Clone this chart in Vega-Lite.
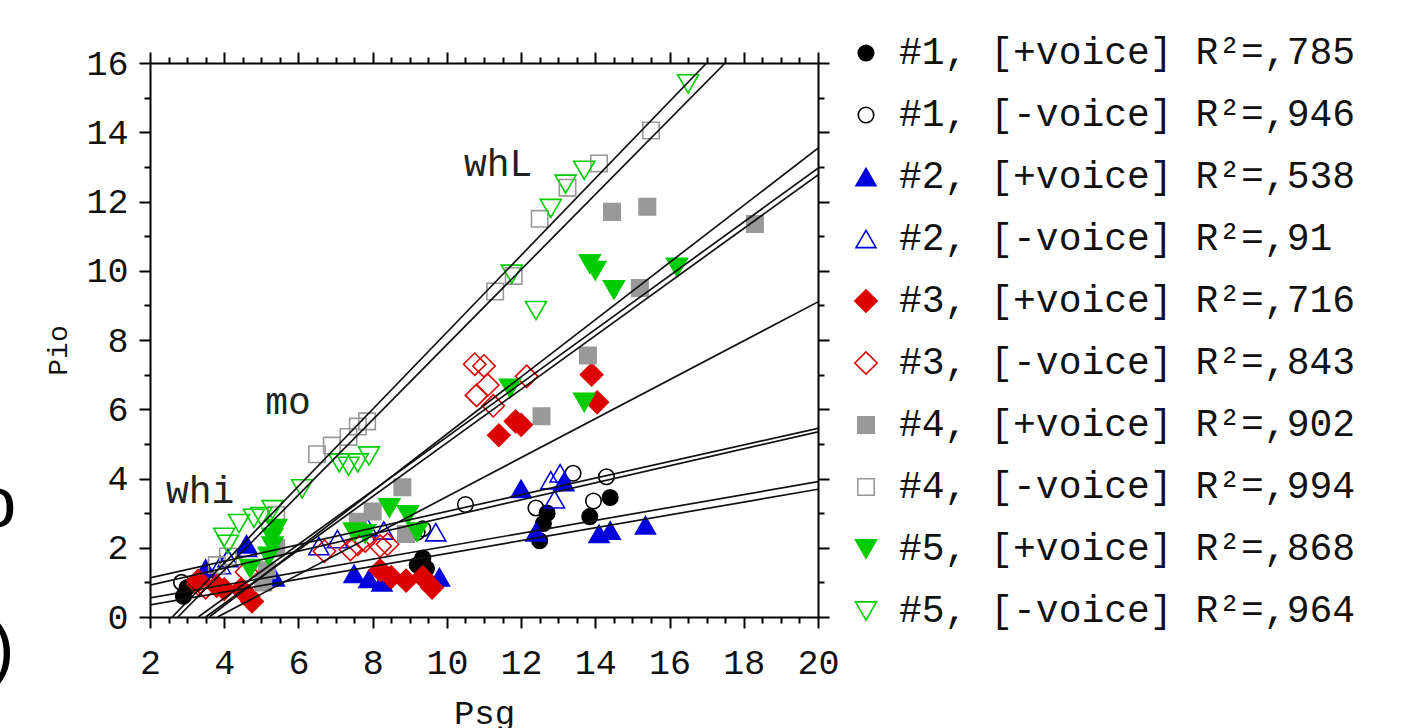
{
  "$schema": "https://vega.github.io/schema/vega-lite/v6.json",
  "width": 668,
  "height": 554,
  "autosize": {"type": "none"},
  "padding": {"left": 150, "top": 63, "right": 603, "bottom": 111},
  "background": "white",
  "config": {"view": {"stroke": null}, "font": "Liberation Mono"},
  "datasets": {
    "pts": [
      {"s": "#1, [+voice] R²=,785", "x": 2.9, "y": 0.6}, {"s": "#1, [+voice] R²=,785", "x": 3.0, "y": 0.85},
      {"s": "#1, [+voice] R²=,785", "x": 9.2, "y": 1.5}, {"s": "#1, [+voice] R²=,785", "x": 9.35, "y": 1.7},
      {"s": "#1, [+voice] R²=,785", "x": 9.45, "y": 1.4}, {"s": "#1, [+voice] R²=,785", "x": 12.5, "y": 2.2},
      {"s": "#1, [+voice] R²=,785", "x": 12.6, "y": 2.7}, {"s": "#1, [+voice] R²=,785", "x": 12.7, "y": 3.0},
      {"s": "#1, [+voice] R²=,785", "x": 13.85, "y": 2.9}, {"s": "#1, [+voice] R²=,785", "x": 14.4, "y": 3.45},
      {"s": "#1, [-voice] R²=,946", "x": 2.85, "y": 1.0}, {"s": "#1, [-voice] R²=,946", "x": 9.2, "y": 2.45},
      {"s": "#1, [-voice] R²=,946", "x": 9.35, "y": 2.55}, {"s": "#1, [-voice] R²=,946", "x": 10.5, "y": 3.25},
      {"s": "#1, [-voice] R²=,946", "x": 12.4, "y": 3.15}, {"s": "#1, [-voice] R²=,946", "x": 13.4, "y": 4.15},
      {"s": "#1, [-voice] R²=,946", "x": 13.95, "y": 3.35}, {"s": "#1, [-voice] R²=,946", "x": 14.3, "y": 4.05},
      {"s": "#2, [+voice] R²=,538", "x": 3.5, "y": 1.4}, {"s": "#2, [+voice] R²=,538", "x": 4.6, "y": 2.1},
      {"s": "#2, [+voice] R²=,538", "x": 5.35, "y": 1.15}, {"s": "#2, [+voice] R²=,538", "x": 7.5, "y": 1.25},
      {"s": "#2, [+voice] R²=,538", "x": 7.9, "y": 1.1}, {"s": "#2, [+voice] R²=,538", "x": 8.25, "y": 1.0},
      {"s": "#2, [+voice] R²=,538", "x": 9.8, "y": 1.15}, {"s": "#2, [+voice] R²=,538", "x": 12.0, "y": 3.7},
      {"s": "#2, [+voice] R²=,538", "x": 12.4, "y": 2.45}, {"s": "#2, [+voice] R²=,538", "x": 13.15, "y": 3.9},
      {"s": "#2, [+voice] R²=,538", "x": 14.1, "y": 2.4}, {"s": "#2, [+voice] R²=,538", "x": 14.4, "y": 2.5},
      {"s": "#2, [+voice] R²=,538", "x": 15.35, "y": 2.65},
      {"s": "#2, [-voice] R²=,91", "x": 3.9, "y": 1.5}, {"s": "#2, [-voice] R²=,91", "x": 4.1, "y": 1.7},
      {"s": "#2, [-voice] R²=,91", "x": 4.6, "y": 2.0}, {"s": "#2, [-voice] R²=,91", "x": 6.55, "y": 2.05},
      {"s": "#2, [-voice] R²=,91", "x": 7.05, "y": 2.25}, {"s": "#2, [-voice] R²=,91", "x": 7.85, "y": 2.6},
      {"s": "#2, [-voice] R²=,91", "x": 8.3, "y": 2.5}, {"s": "#2, [-voice] R²=,91", "x": 9.7, "y": 2.45},
      {"s": "#2, [-voice] R²=,91", "x": 12.8, "y": 3.95}, {"s": "#2, [-voice] R²=,91", "x": 13.05, "y": 4.15},
      {"s": "#2, [-voice] R²=,91", "x": 12.9, "y": 3.4},
      {"s": "#3, [+voice] R²=,716", "x": 3.3, "y": 1.05}, {"s": "#3, [+voice] R²=,716", "x": 3.8, "y": 0.9},
      {"s": "#3, [+voice] R²=,716", "x": 4.0, "y": 0.8}, {"s": "#3, [+voice] R²=,716", "x": 4.45, "y": 0.8},
      {"s": "#3, [+voice] R²=,716", "x": 4.65, "y": 0.6}, {"s": "#3, [+voice] R²=,716", "x": 4.75, "y": 0.45},
      {"s": "#3, [+voice] R²=,716", "x": 8.2, "y": 1.35}, {"s": "#3, [+voice] R²=,716", "x": 8.5, "y": 1.15},
      {"s": "#3, [+voice] R²=,716", "x": 8.9, "y": 1.05}, {"s": "#3, [+voice] R²=,716", "x": 9.35, "y": 1.15},
      {"s": "#3, [+voice] R²=,716", "x": 9.6, "y": 0.85}, {"s": "#3, [+voice] R²=,716", "x": 11.4, "y": 5.25},
      {"s": "#3, [+voice] R²=,716", "x": 11.85, "y": 5.65}, {"s": "#3, [+voice] R²=,716", "x": 12.0, "y": 5.55},
      {"s": "#3, [+voice] R²=,716", "x": 13.9, "y": 7.0}, {"s": "#3, [+voice] R²=,716", "x": 14.05, "y": 6.2},
      {"s": "#3, [-voice] R²=,843", "x": 3.3, "y": 0.95}, {"s": "#3, [-voice] R²=,843", "x": 3.5, "y": 0.85},
      {"s": "#3, [-voice] R²=,843", "x": 4.6, "y": 1.3}, {"s": "#3, [-voice] R²=,843", "x": 6.7, "y": 1.9},
      {"s": "#3, [-voice] R²=,843", "x": 7.4, "y": 1.95}, {"s": "#3, [-voice] R²=,843", "x": 7.6, "y": 2.1},
      {"s": "#3, [-voice] R²=,843", "x": 7.8, "y": 2.2}, {"s": "#3, [-voice] R²=,843", "x": 8.2, "y": 2.05},
      {"s": "#3, [-voice] R²=,843", "x": 8.4, "y": 2.1}, {"s": "#3, [-voice] R²=,843", "x": 10.75, "y": 7.3},
      {"s": "#3, [-voice] R²=,843", "x": 11.0, "y": 7.25}, {"s": "#3, [-voice] R²=,843", "x": 10.8, "y": 6.4},
      {"s": "#3, [-voice] R²=,843", "x": 11.1, "y": 6.7}, {"s": "#3, [-voice] R²=,843", "x": 11.25, "y": 6.1},
      {"s": "#3, [-voice] R²=,843", "x": 12.15, "y": 6.95},
      {"s": "#4, [+voice] R²=,902", "x": 5.05, "y": 1.0}, {"s": "#4, [+voice] R²=,902", "x": 5.15, "y": 1.35},
      {"s": "#4, [+voice] R²=,902", "x": 5.4, "y": 2.0}, {"s": "#4, [+voice] R²=,902", "x": 7.6, "y": 2.75},
      {"s": "#4, [+voice] R²=,902", "x": 8.0, "y": 3.05}, {"s": "#4, [+voice] R²=,902", "x": 8.8, "y": 3.75},
      {"s": "#4, [+voice] R²=,902", "x": 8.9, "y": 2.4}, {"s": "#4, [+voice] R²=,902", "x": 12.55, "y": 5.8},
      {"s": "#4, [+voice] R²=,902", "x": 13.8, "y": 7.55}, {"s": "#4, [+voice] R²=,902", "x": 14.45, "y": 11.7},
      {"s": "#4, [+voice] R²=,902", "x": 15.2, "y": 9.5}, {"s": "#4, [+voice] R²=,902", "x": 15.4, "y": 11.85},
      {"s": "#4, [+voice] R²=,902", "x": 18.3, "y": 11.35},
      {"s": "#4, [-voice] R²=,994", "x": 3.8, "y": 1.5}, {"s": "#4, [-voice] R²=,994", "x": 4.1, "y": 1.75},
      {"s": "#4, [-voice] R²=,994", "x": 5.4, "y": 2.95}, {"s": "#4, [-voice] R²=,994", "x": 6.5, "y": 4.7},
      {"s": "#4, [-voice] R²=,994", "x": 6.9, "y": 4.95}, {"s": "#4, [-voice] R²=,994", "x": 7.35, "y": 5.2},
      {"s": "#4, [-voice] R²=,994", "x": 7.6, "y": 5.5}, {"s": "#4, [-voice] R²=,994", "x": 7.85, "y": 5.65},
      {"s": "#4, [-voice] R²=,994", "x": 11.3, "y": 9.4}, {"s": "#4, [-voice] R²=,994", "x": 11.8, "y": 9.85},
      {"s": "#4, [-voice] R²=,994", "x": 12.5, "y": 11.5}, {"s": "#4, [-voice] R²=,994", "x": 13.25, "y": 12.4},
      {"s": "#4, [-voice] R²=,994", "x": 14.1, "y": 13.1}, {"s": "#4, [-voice] R²=,994", "x": 15.5, "y": 14.05},
      {"s": "#5, [+voice] R²=,868", "x": 4.7, "y": 1.4}, {"s": "#5, [+voice] R²=,868", "x": 5.2, "y": 1.75},
      {"s": "#5, [+voice] R²=,868", "x": 5.3, "y": 2.05}, {"s": "#5, [+voice] R²=,868", "x": 5.3, "y": 2.3},
      {"s": "#5, [+voice] R²=,868", "x": 5.4, "y": 2.55}, {"s": "#5, [+voice] R²=,868", "x": 7.5, "y": 2.45},
      {"s": "#5, [+voice] R²=,868", "x": 7.8, "y": 2.4}, {"s": "#5, [+voice] R²=,868", "x": 8.45, "y": 3.15},
      {"s": "#5, [+voice] R²=,868", "x": 8.95, "y": 2.95}, {"s": "#5, [+voice] R²=,868", "x": 9.2, "y": 2.45},
      {"s": "#5, [+voice] R²=,868", "x": 11.7, "y": 6.6}, {"s": "#5, [+voice] R²=,868", "x": 13.7, "y": 6.2},
      {"s": "#5, [+voice] R²=,868", "x": 13.85, "y": 10.2}, {"s": "#5, [+voice] R²=,868", "x": 14.0, "y": 10.0},
      {"s": "#5, [+voice] R²=,868", "x": 14.5, "y": 9.45}, {"s": "#5, [+voice] R²=,868", "x": 16.2, "y": 10.1},
      {"s": "#5, [-voice] R²=,964", "x": 4.0, "y": 2.3}, {"s": "#5, [-voice] R²=,964", "x": 4.1, "y": 2.1},
      {"s": "#5, [-voice] R²=,964", "x": 4.4, "y": 2.7}, {"s": "#5, [-voice] R²=,964", "x": 4.8, "y": 2.85},
      {"s": "#5, [-voice] R²=,964", "x": 5.0, "y": 2.9}, {"s": "#5, [-voice] R²=,964", "x": 5.3, "y": 3.1},
      {"s": "#5, [-voice] R²=,964", "x": 6.1, "y": 3.7}, {"s": "#5, [-voice] R²=,964", "x": 7.1, "y": 4.45},
      {"s": "#5, [-voice] R²=,964", "x": 7.35, "y": 4.35}, {"s": "#5, [-voice] R²=,964", "x": 7.6, "y": 4.45},
      {"s": "#5, [-voice] R²=,964", "x": 7.9, "y": 4.65}, {"s": "#5, [-voice] R²=,964", "x": 11.75, "y": 9.9},
      {"s": "#5, [-voice] R²=,964", "x": 12.4, "y": 8.85}, {"s": "#5, [-voice] R²=,964", "x": 12.8, "y": 11.8},
      {"s": "#5, [-voice] R²=,964", "x": 13.2, "y": 12.5}, {"s": "#5, [-voice] R²=,964", "x": 13.7, "y": 12.9},
      {"s": "#5, [-voice] R²=,964", "x": 16.5, "y": 15.4}
    ],
    "fits": [
      {"s": "#1, [-voice]", "x1": 2, "y1": 1.13, "x2": 20, "y2": 5.45},
      {"s": "#2, [-voice]", "x1": 2, "y1": 0.92, "x2": 20, "y2": 5.35},
      {"s": "#1, [+voice]", "x1": 2, "y1": 0.55, "x2": 20, "y2": 3.91},
      {"s": "#2, [+voice]", "x1": 2, "y1": 0.35, "x2": 20, "y2": 3.69},
      {"s": "#3, [+voice]", "x1": 3.82, "y1": 0, "x2": 20, "y2": 9.1},
      {"s": "#4, [+voice]", "x1": 3.6, "y1": 0, "x2": 20, "y2": 13.54},
      {"s": "#3, [-voice]", "x1": 3.3, "y1": 0, "x2": 20, "y2": 12.96},
      {"s": "#5, [+voice]", "x1": 3.5, "y1": 0, "x2": 20, "y2": 12.77},
      {"s": "#5, [-voice]", "x1": 2.6, "y1": 0, "x2": 17.0, "y2": 16},
      {"s": "#4, [-voice]", "x1": 2.75, "y1": 0, "x2": 17.5, "y2": 16}
    ],
    "notes": [
      {"t": "whL", "x": 11.38, "y": 13.05},
      {"t": "mo", "x": 5.72, "y": 6.18},
      {"t": "whi", "x": 3.35, "y": 3.61}
    ],
    "edge": [
      {"t": "o", "x": -1.6, "y": 3.23},
      {"t": ")", "x": -1.65, "y": -0.95}
    ]
  },
  "layer": [
    {
      "data": {"name": "pts"},
      "mark": {"type": "point", "strokeWidth": 1.6, "opacity": 1},
      "encoding": {
        "x": {"field": "x", "type": "quantitative", "scale": {"domain": [2, 20], "nice": false, "zero": false},
          "axis": {"orient": "bottom", "values": [2, 4, 6, 8, 10, 12, 14, 16, 18, 20], "grid": false,
            "domainColor": "black", "domainWidth": 2, "tickColor": "black", "tickWidth": 2, "tickSize": 11,
            "labelFont": "Liberation Mono", "labelFontSize": 35, "labelColor": "#111", "labelPadding": 17, "labelFlush": false,
            "title": "Psg", "titleFont": "Liberation Mono", "titleFontSize": 34, "titleFontWeight": "normal", "titleColor": "#111",
            "titleY": 106, "titleBaseline": "alphabetic"}},
        "y": {"field": "y", "type": "quantitative", "scale": {"domain": [0, 16], "nice": false, "zero": false},
          "axis": {"orient": "left", "values": [0, 2, 4, 6, 8, 10, 12, 14, 16], "grid": false,
            "domainColor": "black", "domainWidth": 2, "tickColor": "black", "tickWidth": 2, "tickSize": 11,
            "labelFont": "Liberation Mono", "labelFontSize": 35, "labelColor": "#111", "labelPadding": 11, "labelFlush": false,
            "title": "Pio", "titleFont": "Liberation Mono", "titleFontSize": 28, "titleFontWeight": "normal", "titleColor": "#111",
            "titleAngle": -90, "titleX": -92, "titleY": 287, "titleBaseline": "middle", "titleAlign": "center"}},
        "shape": {"field": "s", "type": "nominal",
          "scale": {"domain": ["#1, [+voice] R²=,785", "#1, [-voice] R²=,946", "#2, [+voice] R²=,538", "#2, [-voice] R²=,91", "#3, [+voice] R²=,716", "#3, [-voice] R²=,843", "#4, [+voice] R²=,902", "#4, [-voice] R²=,994", "#5, [+voice] R²=,868", "#5, [-voice] R²=,964"],
            "range": ["circle", "circle", "triangle-up", "triangle-up", "diamond", "diamond", "square", "square", "triangle-down", "triangle-down"]},
          "legend": {"orient": "none", "legendX": 697, "legendY": -29, "title": null, "padding": 0, "labelFont": "Liberation Mono", "labelFontSize": 38, "labelColor": "#111", "labelOffset": 14, "rowPadding": 24, "labelLimit": 0, "symbolStrokeWidth": 1.6}},
        "stroke": {"field": "s", "type": "nominal",
          "scale": {"domain": ["#1, [+voice] R²=,785", "#1, [-voice] R²=,946", "#2, [+voice] R²=,538", "#2, [-voice] R²=,91", "#3, [+voice] R²=,716", "#3, [-voice] R²=,843", "#4, [+voice] R²=,902", "#4, [-voice] R²=,994", "#5, [+voice] R²=,868", "#5, [-voice] R²=,964"],
            "range": ["#000000", "#000000", "#0000dd", "#0000dd", "#dd0000", "#dd0000", "#999999", "#999999", "#00cc00", "#00cc00"]},
          "legend": {"orient": "none", "legendX": 697, "legendY": -29, "title": null, "padding": 0, "labelFont": "Liberation Mono", "labelFontSize": 38, "labelColor": "#111", "labelOffset": 14, "rowPadding": 24, "labelLimit": 0, "symbolStrokeWidth": 1.6}},
        "fill": {"field": "s", "type": "nominal",
          "scale": {"domain": ["#1, [+voice] R²=,785", "#1, [-voice] R²=,946", "#2, [+voice] R²=,538", "#2, [-voice] R²=,91", "#3, [+voice] R²=,716", "#3, [-voice] R²=,843", "#4, [+voice] R²=,902", "#4, [-voice] R²=,994", "#5, [+voice] R²=,868", "#5, [-voice] R²=,964"],
            "range": ["#000000", "transparent", "#0000dd", "transparent", "#dd0000", "transparent", "#999999", "transparent", "#00cc00", "transparent"]},
          "legend": {"orient": "none", "legendX": 697, "legendY": -29, "title": null, "padding": 0, "labelFont": "Liberation Mono", "labelFontSize": 38, "labelColor": "#111", "labelOffset": 14, "rowPadding": 24, "labelLimit": 0, "symbolStrokeWidth": 1.6}},
        "size": {"field": "s", "type": "nominal",
          "scale": {"type": "ordinal", "domain": ["#1, [+voice] R²=,785", "#1, [-voice] R²=,946", "#2, [+voice] R²=,538", "#2, [-voice] R²=,91", "#3, [+voice] R²=,716", "#3, [-voice] R²=,843", "#4, [+voice] R²=,902", "#4, [-voice] R²=,994", "#5, [+voice] R²=,868", "#5, [-voice] R²=,964"],
            "range": [240, 240, 400, 400, 500, 500, 270, 270, 440, 440]},
          "legend": {"orient": "none", "legendX": 697, "legendY": -29, "title": null, "padding": 0, "labelFont": "Liberation Mono", "labelFontSize": 38, "labelColor": "#111", "labelOffset": 14, "rowPadding": 24, "labelLimit": 0, "symbolStrokeWidth": 1.6}}
      }
    },
    {
      "data": {"name": "fits"},
      "mark": {"type": "rule", "color": "#111", "strokeWidth": 1.7, "clip": true},
      "encoding": {
        "x": {"field": "x1", "type": "quantitative", "scale": {"domain": [2, 20], "nice": false, "zero": false},
          "axis": {"orient": "top", "values": [2, 4, 6, 8, 10, 12, 14, 16, 18, 20], "grid": false, "labels": false, "title": null,
            "domainColor": "black", "domainWidth": 2, "tickColor": "black", "tickWidth": 2, "tickSize": 11}},
        "y": {"field": "y1", "type": "quantitative", "scale": {"domain": [0, 16], "nice": false, "zero": false},
          "axis": {"orient": "right", "values": [0, 2, 4, 6, 8, 10, 12, 14, 16], "grid": false, "labels": false, "title": null,
            "domainColor": "black", "domainWidth": 2, "tickColor": "black", "tickWidth": 2, "tickSize": 11}},
        "x2": {"field": "x2"},
        "y2": {"field": "y2"}
      }
    },
    {
      "data": {"name": "notes"},
      "mark": {"type": "text", "font": "Liberation Mono", "fontSize": 38, "color": "#222", "align": "center", "baseline": "middle"},
      "encoding": {
        "x": {"field": "x", "type": "quantitative",
          "axis": {"orient": "bottom", "values": [2.5, 3, 3.5, 4.5, 5, 5.5, 6.5, 7, 7.5, 8.5, 9, 9.5, 10.5, 11, 11.5, 12.5, 13, 13.5, 14.5, 15, 15.5, 16.5, 17, 17.5, 18.5, 19, 19.5],
            "grid": false, "labels": false, "domain": false, "title": null, "tickColor": "black", "tickWidth": 2, "tickSize": 6}},
        "y": {"field": "y", "type": "quantitative",
          "axis": {"orient": "left", "values": [1, 3, 5, 7, 9, 11, 13, 15], "grid": false, "labels": false, "domain": false, "title": null,
            "tickColor": "black", "tickWidth": 2, "tickSize": 6}},
        "text": {"field": "t"}
      }
    },
    {
      "data": {"name": "edge"},
      "mark": {"type": "text", "font": "Liberation Sans", "fontSize": 72, "color": "#000", "align": "right", "baseline": "middle"},
      "encoding": {
        "x": {"field": "x", "type": "quantitative",
          "axis": {"orient": "top", "values": [2.5, 3, 3.5, 4.5, 5, 5.5, 6.5, 7, 7.5, 8.5, 9, 9.5, 10.5, 11, 11.5, 12.5, 13, 13.5, 14.5, 15, 15.5, 16.5, 17, 17.5, 18.5, 19, 19.5],
            "grid": false, "labels": false, "domain": false, "title": null, "tickColor": "black", "tickWidth": 2, "tickSize": 6}},
        "y": {"field": "y", "type": "quantitative",
          "axis": {"orient": "right", "values": [1, 3, 5, 7, 9, 11, 13, 15], "grid": false, "labels": false, "domain": false, "title": null,
            "tickColor": "black", "tickWidth": 2, "tickSize": 6}},
        "text": {"field": "t"}
      }
    }
  ],
  "resolve": {"axis": {"x": "independent", "y": "independent"}}
}
